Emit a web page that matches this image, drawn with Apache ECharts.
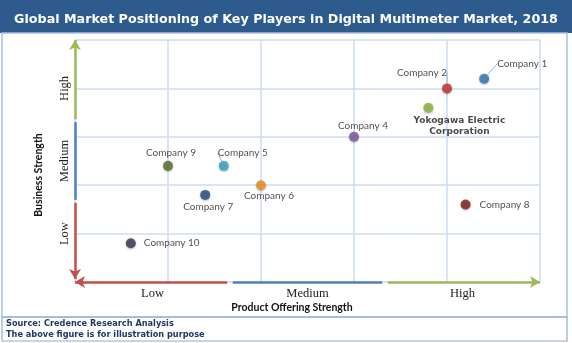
<!DOCTYPE html>
<html>
<head>
<meta charset="utf-8">
<style>
  html, body { margin: 0; padding: 0; background: #fff; }
  #chart { width: 572px; height: 343px; }
</style>
<script src="https://cdn.jsdelivr.net/npm/echarts@6/dist/echarts.min.js"></script>
</head>
<body>
<div id="chart"></div>
<script>
// positioning data (0 = low, 5 = high on both scales)
var companies = ['Company 1', 'Company 2', 'Yokogawa Electric\nCorporation', 'Company 4', 'Company 5',
    'Company 6', 'Company 7', 'Company 8', 'Company 9', 'Company 10'];
var productStrength = [4.4, 4.0, 3.8, 3.0, 1.6, 2.0, 1.4, 4.2, 1.0, 0.6];
var businessStrength = [4.2, 4.0, 3.6, 3.0, 2.4, 2.0, 1.8, 1.6, 2.4, 0.8];
var levelNames = ['Low', 'Medium', 'High'];
var yLevelTicks = [1, 2.5, 4];

var pointColors = ['#2f74b5', '#c3322c', '#8db33c', '#7b55a3', '#31a3c6',
    '#f08f22', '#1f4a7f', '#7f1d18', '#56712a', '#3e2f55'];

// label placement per point: [position, distance, dx, dy, leader line]
var labelPlace = [
    ['right', 5, 3, -15, true],
    ['top', 5, -25, 0, true],
    ['bottom', 2, 31, 0, false],
    ['top', 0, 9, 0, false],
    ['top', 2, 19, 0, true],
    ['bottom', 0, 8, 0, false],
    ['bottom', 1, 3, 0, false],
    ['right', 9, 0, 0, false],
    ['top', 2, 3, 0, false],
    ['right', 8, 0, 0, false]
];

var RED = '#c0504d', BLUE = '#4f81bd', GREEN = '#9bbb59';
var GRID_LINE = '#cddcf0';

function seg(from, to, color, arrowEnd) {
    return [
        { coord: from, symbol: 'none', lineStyle: { color: color } },
        { coord: to, symbol: arrowEnd ? 'arrow' : 'none', lineStyle: { color: color } }
    ];
}

var third = 5 / 3, g = 0.03;
var axisSegments = [
    seg([third - g, 0], [0, 0], RED, true),
    seg([third + g, 0], [2 * third - g, 0], BLUE, false),
    seg([2 * third + g, 0], [5, 0], GREEN, true),
    seg([0, 2 * third + g], [0, 5], GREEN, true),
    seg([0, third + g], [0, 2 * third - g], BLUE, false),
    seg([0, third - g], [0, 0.06], RED, true)
];

var points = companies.map(function (name, i) {
    var p = labelPlace[i];
    var bold = i === 2;
    return {
        name: name,
        value: [productStrength[i], businessStrength[i]],
        itemStyle: { color: pointColors[i] },
        label: {
            position: p[0],
            distance: p[1],
            fontFamily: bold ? 'DejaVu Sans' : 'Lato',
            fontWeight: bold ? 'bold' : 'normal',
            fontSize: bold ? 9 : 10,
            lineHeight: bold ? 11 : 12,
            color: bold ? '#1a1a1a' : '#262626'
        },
        labelLine: { show: p[4] }
    };
});

var chart = echarts.init(document.getElementById('chart'));
chart.setOption({
    animation: false,
    backgroundColor: '#fff',
    title: {
        text: 'Global Market Positioning of Key Players in Digital Multimeter Market, 2018',
        left: 'center',
        top: 8,
        textStyle: { color: '#fff', fontFamily: 'DejaVu Sans', fontWeight: 'bold', fontSize: 12.7 }
    },
    graphic: [
        { type: 'rect', z: -1, shape: { x: 0, y: 0, width: 572, height: 33 }, style: { fill: '#2e5b8d' } },
        { type: 'rect', z: -1, shape: { x: 2, y: 33, width: 565, height: 284 }, style: { fill: 'none', stroke: '#a9c0e0', lineWidth: 1.5 } },
        { type: 'rect', z: -1, shape: { x: 2, y: 317, width: 565, height: 24 }, style: { fill: 'none', stroke: '#8faad6', lineWidth: 1.2 } },
        { type: 'text', left: 6, top: 320, style: { text: 'Source: Credence Research Analysis', fill: '#1f3864', font: 'bold 8.2px "DejaVu Sans"' } },
        { type: 'text', left: 6, top: 331, style: { text: 'The above figure is for illustration purpose', fill: '#1f3864', font: 'bold 8.2px "DejaVu Sans"' } }
    ],
    grid: { left: 75, right: 32, top: 40, bottom: 61, containLabel: false },
    xAxis: [{
        type: 'value', min: 0, max: 5, interval: 1,
        axisLine: { show: false }, axisTick: { show: false }, axisLabel: { show: false },
        splitLine: { lineStyle: { color: GRID_LINE, width: 1.5 } },
        name: 'Product Offering Strength', nameLocation: 'middle', nameGap: 20,
        nameTextStyle: { fontFamily: 'Lato', fontWeight: 'bold', fontSize: 10.5, color: '#111', padding: [0, 31, 0, 0] }
    }, {
        type: 'category', data: levelNames, position: 'bottom',
        axisLine: { show: false }, axisTick: { show: false }, splitLine: { show: false },
        axisLabel: { margin: 5, fontFamily: 'Liberation Serif', fontSize: 12.5, color: '#222' }
    }],
    yAxis: [{
        type: 'value', min: 0, max: 5, interval: 1,
        axisLine: { show: false }, axisTick: { show: false }, axisLabel: { show: false },
        splitLine: { lineStyle: { color: GRID_LINE, width: 1.5 } },
        name: 'Business Strength', nameLocation: 'middle', nameGap: 31, nameRotate: 90,
        nameTextStyle: { fontFamily: 'Lato', fontWeight: 'bold', fontSize: 10.5, color: '#111', padding: [0, 28, 0, 0] }
    }, {
        type: 'value', min: 0, max: 5, interval: 0.5, position: 'left',
        axisLine: { show: false }, axisTick: { show: false }, splitLine: { show: false },
        axisLabel: {
            rotate: 90, margin: 4, fontFamily: 'Liberation Serif', fontSize: 12.5, color: '#222',
            formatter: function (v) {
                var k = yLevelTicks.indexOf(v);
                return k < 0 ? '' : levelNames[k];
            }
        }
    }],
    series: [{
        type: 'scatter',
        symbolSize: 10,
        itemStyle: { shadowBlur: 2, shadowColor: 'rgba(0,0,0,0.35)', shadowOffsetY: 1 },
        label: { show: true, formatter: '{b}' },
        labelLine: { lineStyle: { color: '#8fb3dc', width: 1 } },
        labelLayout: function (params) {
            var p = labelPlace[params.dataIndex];
            return { dx: p[2], dy: p[3] };
        },
        data: points,
        markLine: {
            silent: true,
            symbolSize: [9, 10],
            label: { show: false },
            lineStyle: { width: 2.5, type: 'solid' },
            data: axisSegments
        }
    }]
});
</script>
</body>
</html>
